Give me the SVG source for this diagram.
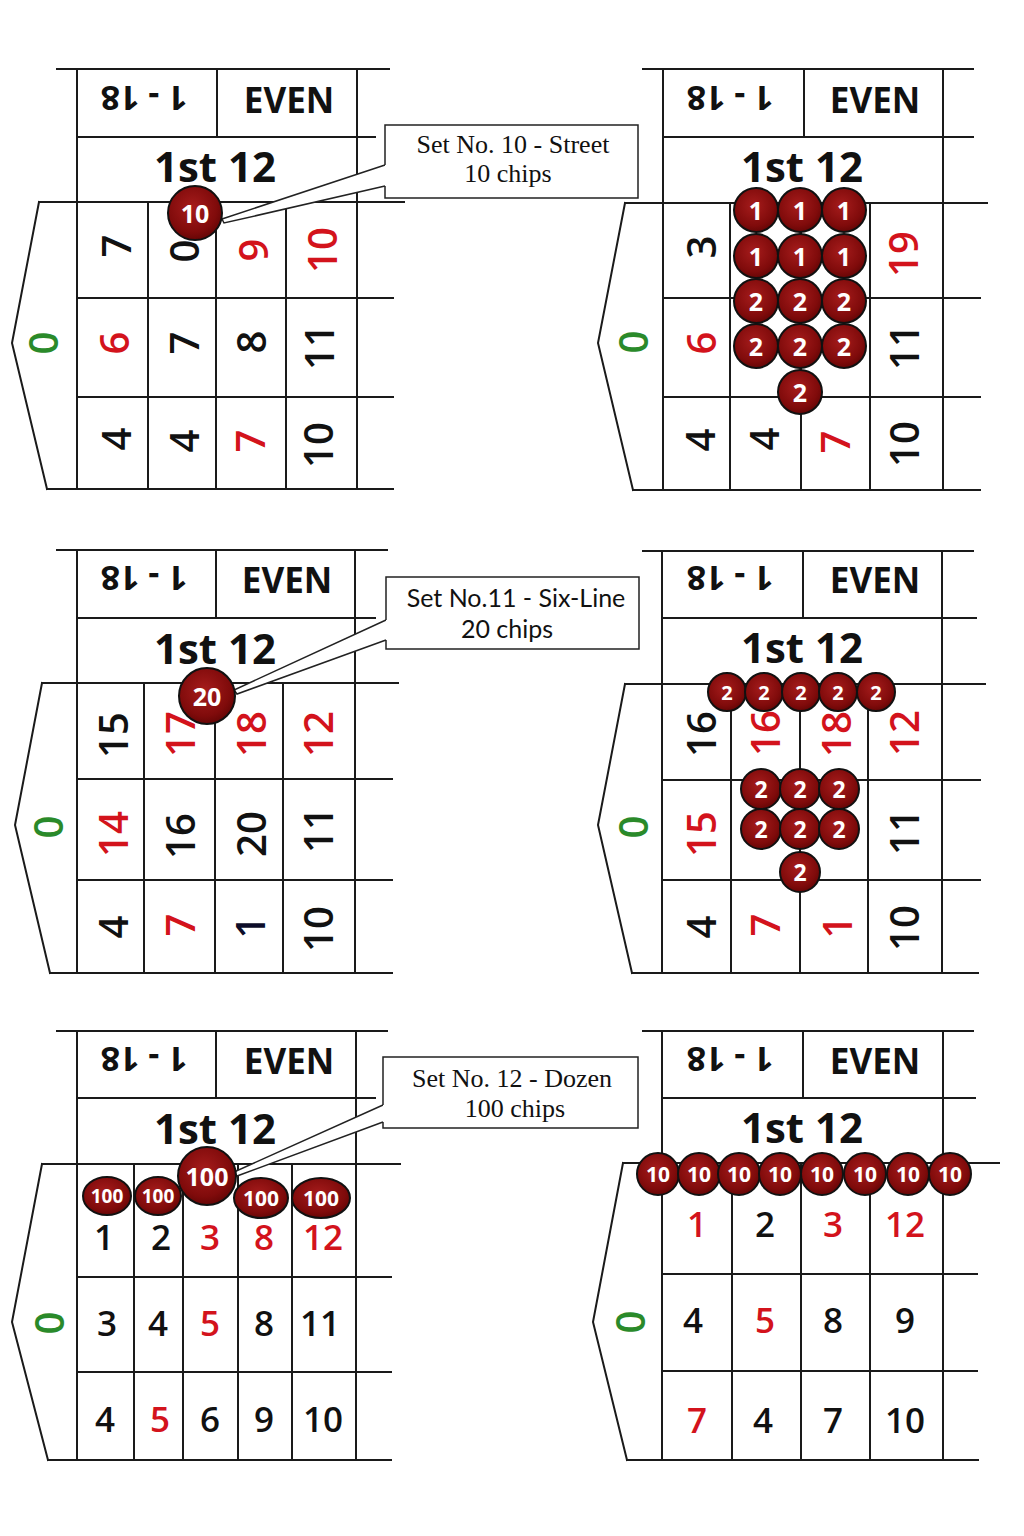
<svg xmlns="http://www.w3.org/2000/svg" width="1024" height="1536" viewBox="0 0 1024 1536">
<style>
.ln{stroke:#1a1a1a;stroke-width:2;fill:none;stroke-linecap:square}
.t{font-family:"Open Sans","Liberation Sans",sans-serif;text-anchor:middle;dominant-baseline:central}
.num{font-size:40px;font-weight:600}
.up{font-family:"Open Sans","Liberation Sans",sans-serif;text-anchor:middle;font-size:35px;font-weight:600}
.k{fill:#111}
.r{fill:#d3131c}
.g{fill:#2a8a2a}
.nv{fill:#0d0d2a}
.h18{font-size:34px;font-weight:700;fill:#111}
.ev{font-size:35px;font-weight:700;fill:#111}
.d12{font-size:42px;font-weight:700;fill:#111}
.chip{fill:url(#cg);stroke:#111;stroke-width:2}
.ct{font-family:"Open Sans","Liberation Sans",sans-serif;fill:#fff;font-weight:700;text-anchor:middle;dominant-baseline:central}
.bx{fill:#fff;stroke:none}
.bs{fill:none;stroke:#222;stroke-width:1.5}
.wedge{fill:#fff;stroke:#222;stroke-width:1.5}
.serif{font-family:"Liberation Serif","Times New Roman",serif;font-size:26px;fill:#111;text-anchor:middle}
.sans{font-family:Lato,"Open Sans",sans-serif;font-size:25px;fill:#111;text-anchor:middle}
</style>
<defs>
<radialGradient id="cg" cx="0.45" cy="0.4" r="0.65">
<stop offset="0" stop-color="#a61c1c"/>
<stop offset="0.7" stop-color="#800b0b"/>
<stop offset="1" stop-color="#5e0404"/>
</radialGradient>
</defs>
<rect width="1024" height="1536" fill="#fff"/>

<!-- Panel 1 -->
<g id="panel1">
<path class="ln" d="M57,69H389 M77,69V489 M217,69V137 M357,69V489 M77,137H375 M39,202H404 M148,202V489 M216,202V489 M286,202V489 M77,298H393 M77,397H393 M47,489H393 M39,202L12,343L47,489"/>
<text class="t h18" transform="translate(144,99) rotate(180)">1 - 18</text>
<text class="t ev" x="289" y="99">EVEN</text>
<text class="t d12" x="215" y="165">1st 12</text>
<text class="t num g" transform="translate(42,343) rotate(-90)">0</text>
<text class="t num k" transform="translate(115,246) rotate(-90)">7</text>
<text class="t num k" transform="translate(183,251) rotate(-90)">0</text>
<text class="t num r" transform="translate(252,250) rotate(-90)">9</text>
<text class="t num r" transform="translate(321,250) rotate(-90)">10</text>
<text class="t num r" transform="translate(113,343) rotate(-90)">6</text>
<text class="t num k" transform="translate(183,343) rotate(-90)">7</text>
<text class="t num k" transform="translate(250,342) rotate(-90)">8</text>
<text class="t num k" transform="translate(318,347) rotate(-90)">11</text>
<text class="t num k" transform="translate(115,439) rotate(-90)">4</text>
<text class="t num k" transform="translate(183,441) rotate(-90)">4</text>
<text class="t num r" transform="translate(249,441) rotate(-90)">7</text>
<text class="t num k" transform="translate(317,445) rotate(-90)">10</text>
</g>

<!-- Panel 2 -->
<g id="panel2">
<path class="ln" d="M643,69H973 M663,69V490 M804,69V137 M943,69V490 M663,137H973 M625,203H987 M730,203V490 M801,203V490 M870,203V490 M663,298H980 M663,397H980 M633,490H980 M625,203L598,343L633,490"/>
<text class="t h18" transform="translate(730,99) rotate(180)">1 - 18</text>
<text class="t ev" x="875" y="99">EVEN</text>
<text class="t d12" x="802" y="165">1st 12</text>
<text class="t num g" transform="translate(632,342) rotate(-90)">0</text>
<text class="t num k" transform="translate(700,247) rotate(-90)">3</text>
<text class="t num r" transform="translate(902,254) rotate(-90)">19</text>
<text class="t num r" transform="translate(700,343) rotate(-90)">6</text>
<text class="t num k" transform="translate(903,347) rotate(-90)">11</text>
<text class="t num k" transform="translate(699,440) rotate(-90)">4</text>
<text class="t num k" transform="translate(763,439) rotate(-90)">4</text>
<text class="t num r" transform="translate(834,442) rotate(-90)">7</text>
<text class="t num k" transform="translate(903,444) rotate(-90)">10</text>
</g>

<!-- Panel 3 -->
<g id="panel3">
<path class="ln" d="M57,550H387 M77,550V973 M216,550V618 M355,550V973 M77,618H375 M42,683H398 M144,683V973 M215,683V973 M283,683V973 M77,779H392 M77,880H392 M50,973H392 M42,683L15,825L50,973"/>
<text class="t h18" transform="translate(144,579) rotate(180)">1 - 18</text>
<text class="t ev" x="287" y="579">EVEN</text>
<text class="t d12" x="215" y="647">1st 12</text>
<text class="t num g" transform="translate(47,827) rotate(-90)">0</text>
<text class="t num k" transform="translate(112,735) rotate(-90)">15</text>
<text class="t num r" transform="translate(179,734) rotate(-90)">17</text>
<text class="t num r" transform="translate(250,734) rotate(-90)">18</text>
<text class="t num r" transform="translate(317,734) rotate(-90)">12</text>
<text class="t num r" transform="translate(112,834) rotate(-90)">14</text>
<text class="t num k" transform="translate(179,836) rotate(-90)">16</text>
<text class="t num k" transform="translate(250,834) rotate(-90)">20</text>
<text class="t num k" transform="translate(317,830) rotate(-90)">11</text>
<text class="t num k" transform="translate(112,927) rotate(-90)">4</text>
<text class="t num r" transform="translate(179,925) rotate(-90)">7</text>
<text class="t num nv" transform="translate(249,927) rotate(-90)">1</text>
<text class="t num k" transform="translate(317,929) rotate(-90)">10</text>
</g>

<!-- Panel 4 -->
<g id="panel4">
<path class="ln" d="M643,551H973 M662,551V973 M803,551V618 M942,551V973 M662,618H976 M625,684H985 M731,684V973 M800,684V973 M868,684V973 M662,780H980 M662,880H980 M632,973H978 M625,684L598,825L632,973"/>
<text class="t h18" transform="translate(730,579) rotate(180)">1 - 18</text>
<text class="t ev" x="875" y="579">EVEN</text>
<text class="t d12" x="802" y="646">1st 12</text>
<text class="t num g" transform="translate(632,827) rotate(-90)">0</text>
<text class="t num k" transform="translate(700,734) rotate(-90)">16</text>
<text class="t num r" transform="translate(764,733) rotate(-90)">16</text>
<text class="t num r" transform="translate(835,734) rotate(-90)">18</text>
<text class="t num r" transform="translate(903,733) rotate(-90)">12</text>
<text class="t num r" transform="translate(700,834) rotate(-90)">15</text>
<text class="t num k" transform="translate(903,832) rotate(-90)">11</text>
<text class="t num k" transform="translate(700,927) rotate(-90)">4</text>
<text class="t num r" transform="translate(764,925) rotate(-90)">7</text>
<text class="t num r" transform="translate(836,927) rotate(-90)">1</text>
<text class="t num k" transform="translate(903,928) rotate(-90)">10</text>
</g>

<!-- Panel 5 -->
<g id="panel5">
<path class="ln" d="M57,1031H387 M77,1031V1460 M216,1031V1098 M356,1031V1460 M77,1098H375 M42,1164H400 M134,1164V1460 M183,1164V1460 M238,1164V1460 M292,1164V1460 M77,1277H391 M77,1372H391 M48,1460H391 M42,1164L12,1322L48,1460"/>
<text class="t h18" transform="translate(144,1060) rotate(180)">1 - 18</text>
<text class="t ev" x="289" y="1060">EVEN</text>
<text class="t d12" x="215" y="1127">1st 12</text>
<text class="t num g" transform="translate(48,1323) rotate(-90)">0</text>
<text class="up k" x="104" y="1250">1</text>
<text class="up k" x="161" y="1250">2</text>
<text class="up r" x="210" y="1250">3</text>
<text class="up r" x="264" y="1250">8</text>
<text class="up r" x="323" y="1250">12</text>
<text class="up k" x="107" y="1336">3</text>
<text class="up k" x="158" y="1336">4</text>
<text class="up r" x="210" y="1336">5</text>
<text class="up k" x="264" y="1336">8</text>
<text class="up k" x="320" y="1336">11</text>
<text class="up k" x="105" y="1432">4</text>
<text class="up r" x="160" y="1432">5</text>
<text class="up k" x="210" y="1432">6</text>
<text class="up k" x="264" y="1432">9</text>
<text class="up k" x="323" y="1432">10</text>
</g>

<!-- Panel 6 -->
<g id="panel6">
<path class="ln" d="M643,1031H973 M662,1031V1460 M803,1031V1098 M943,1031V1460 M662,1098H975 M623,1163H999 M732,1163V1460 M801,1163V1460 M870,1163V1460 M662,1274H977 M662,1371H977 M627,1460H978 M623,1163L593,1322L627,1460"/>
<text class="t h18" transform="translate(730,1060) rotate(180)">1 - 18</text>
<text class="t ev" x="875" y="1060">EVEN</text>
<text class="t d12" x="802" y="1126">1st 12</text>
<text class="t num g" transform="translate(629,1322) rotate(-90)">0</text>
<text class="up r" x="697" y="1237">1</text>
<text class="up k" x="765" y="1237">2</text>
<text class="up r" x="833" y="1237">3</text>
<text class="up r" x="905" y="1237">12</text>
<text class="up k" x="693" y="1333">4</text>
<text class="up r" x="765" y="1333">5</text>
<text class="up k" x="833" y="1333">8</text>
<text class="up k" x="905" y="1333">9</text>
<text class="up r" x="697" y="1433">7</text>
<text class="up k" x="763" y="1433">4</text>
<text class="up k" x="833" y="1433">7</text>
<text class="up k" x="905" y="1433">10</text>
</g>

<!-- Connectors: callout leaders -->
<g id="connectors">
<path class="wedge" d="M385,165 L222,219 L224,223 L385,186"/>
<path class="wedge" d="M386,620 L234,690 L237,694 L386,640"/>
<path class="wedge" d="M383,1105 L234,1172 L237,1176 L383,1122"/>
</g>

<!-- Callouts -->
<g id="callout1">
<rect class="bx" x="385" y="125" width="253" height="73"/>
<path class="bs" d="M385,165 V125 H638 V198 H385 V186"/>
<text class="serif" x="513" y="153">Set No. 10 - Street</text>
<text class="serif" x="508" y="182">10 chips</text>
</g>
<g id="callout2">
<rect class="bx" x="386" y="577" width="253" height="72"/>
<path class="bs" d="M386,620 V577 H639 V649 H386 V640"/>
<text class="sans" x="516" y="607">Set No.11 - Six-Line</text>
<text class="sans" x="507" y="638">20 chips</text>
</g>
<g id="callout3">
<rect class="bx" x="383" y="1057" width="255" height="71"/>
<path class="bs" d="M383,1105 V1057 H638 V1128 H383 V1122"/>
<text class="serif" x="512" y="1087">Set No. 12 - Dozen</text>
<text class="serif" x="515" y="1117">100 chips</text>
</g>

<!-- Chips panel 1 -->
<g id="chips1">
<circle class="chip" cx="195" cy="213" r="27"/>
<text class="ct" x="195" y="213" font-size="25">10</text>
</g>

<!-- Chips panel 2 -->
<g id="chips2">
<circle class="chip" cx="756" cy="210" r="22"/><text class="ct" x="756" y="210" font-size="25">1</text>
<circle class="chip" cx="800" cy="210" r="22"/><text class="ct" x="800" y="210" font-size="25">1</text>
<circle class="chip" cx="844" cy="210" r="22"/><text class="ct" x="844" y="210" font-size="25">1</text>
<circle class="chip" cx="756" cy="256" r="22"/><text class="ct" x="756" y="256" font-size="25">1</text>
<circle class="chip" cx="800" cy="256" r="22"/><text class="ct" x="800" y="256" font-size="25">1</text>
<circle class="chip" cx="844" cy="256" r="22"/><text class="ct" x="844" y="256" font-size="25">1</text>
<circle class="chip" cx="756" cy="301" r="22"/><text class="ct" x="756" y="301" font-size="25">2</text>
<circle class="chip" cx="800" cy="301" r="22"/><text class="ct" x="800" y="301" font-size="25">2</text>
<circle class="chip" cx="844" cy="301" r="22"/><text class="ct" x="844" y="301" font-size="25">2</text>
<circle class="chip" cx="756" cy="346" r="22"/><text class="ct" x="756" y="346" font-size="25">2</text>
<circle class="chip" cx="800" cy="346" r="22"/><text class="ct" x="800" y="346" font-size="25">2</text>
<circle class="chip" cx="844" cy="346" r="22"/><text class="ct" x="844" y="346" font-size="25">2</text>
<circle class="chip" cx="800" cy="392" r="22"/><text class="ct" x="800" y="392" font-size="25">2</text>
</g>

<!-- Chips panel 3 -->
<g id="chips3">
<circle class="chip" cx="207" cy="696" r="28"/>
<text class="ct" x="207" y="696" font-size="25">20</text>
</g>

<!-- Chips panel 4 -->
<g id="chips4">
<circle class="chip" cx="727" cy="692" r="19"/><text class="ct" x="727" y="692" font-size="20">2</text>
<circle class="chip" cx="764" cy="692" r="19"/><text class="ct" x="764" y="692" font-size="20">2</text>
<circle class="chip" cx="801" cy="692" r="19"/><text class="ct" x="801" y="692" font-size="20">2</text>
<circle class="chip" cx="838" cy="692" r="19"/><text class="ct" x="838" y="692" font-size="20">2</text>
<circle class="chip" cx="876" cy="692" r="19"/><text class="ct" x="876" y="692" font-size="20">2</text>
<circle class="chip" cx="761" cy="789" r="20"/><text class="ct" x="761" y="789" font-size="23">2</text>
<circle class="chip" cx="800" cy="789" r="20"/><text class="ct" x="800" y="789" font-size="23">2</text>
<circle class="chip" cx="839" cy="789" r="20"/><text class="ct" x="839" y="789" font-size="23">2</text>
<circle class="chip" cx="761" cy="829" r="20"/><text class="ct" x="761" y="829" font-size="23">2</text>
<circle class="chip" cx="800" cy="829" r="20"/><text class="ct" x="800" y="829" font-size="23">2</text>
<circle class="chip" cx="839" cy="829" r="20"/><text class="ct" x="839" y="829" font-size="23">2</text>
<circle class="chip" cx="800" cy="872" r="20"/><text class="ct" x="800" y="872" font-size="23">2</text>
</g>

<!-- Chips panel 5 -->
<g id="chips5">
<ellipse class="chip" cx="107" cy="1196" rx="24" ry="19"/><text class="ct" x="107" y="1196" font-size="19">100</text>
<ellipse class="chip" cx="158" cy="1196" rx="23" ry="19"/><text class="ct" x="158" y="1196" font-size="19">100</text>
<ellipse class="chip" cx="261" cy="1198" rx="27" ry="20"/><text class="ct" x="261" y="1198" font-size="21">100</text>
<ellipse class="chip" cx="321" cy="1198" rx="29" ry="20"/><text class="ct" x="321" y="1198" font-size="21">100</text>
<circle class="chip" cx="207" cy="1176" r="29"/><text class="ct" x="207" y="1176" font-size="25">100</text>
</g>

<!-- Chips panel 6 -->
<g id="chips6">
<circle class="chip" cx="658" cy="1174" r="21"/><text class="ct" x="658" y="1174" font-size="21">10</text>
<circle class="chip" cx="699" cy="1174" r="21"/><text class="ct" x="699" y="1174" font-size="21">10</text>
<circle class="chip" cx="739" cy="1174" r="21"/><text class="ct" x="739" y="1174" font-size="21">10</text>
<circle class="chip" cx="780" cy="1174" r="21"/><text class="ct" x="780" y="1174" font-size="21">10</text>
<circle class="chip" cx="822" cy="1174" r="21"/><text class="ct" x="822" y="1174" font-size="21">10</text>
<circle class="chip" cx="865" cy="1174" r="21"/><text class="ct" x="865" y="1174" font-size="21">10</text>
<circle class="chip" cx="908" cy="1174" r="21"/><text class="ct" x="908" y="1174" font-size="21">10</text>
<circle class="chip" cx="950" cy="1174" r="21"/><text class="ct" x="950" y="1174" font-size="21">10</text>
</g>
</svg>
